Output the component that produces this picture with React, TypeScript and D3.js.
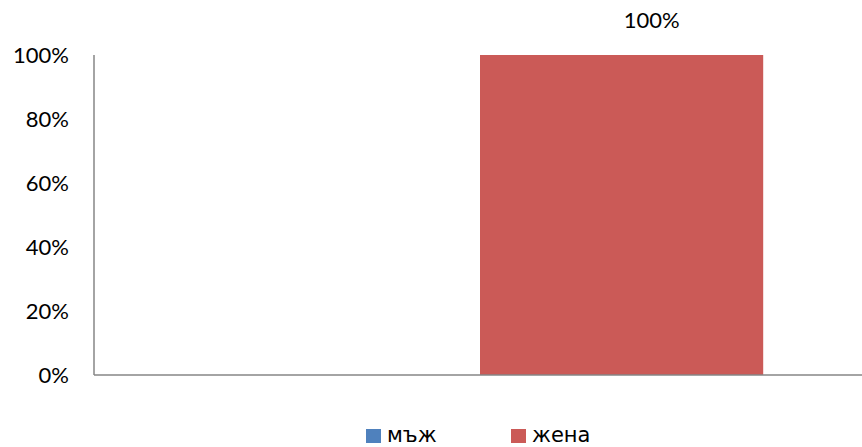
import React, { useEffect, useRef } from 'react';
import * as d3 from 'd3';

// one category, two series (мъж / жена)
const categories = [''];
const seriesNames = ['мъж', 'жена'];
const seriesValues = [0, 1];
const seriesColors = ['#4f81bd', '#cb5a57'];
const yTicks = [0, 0.2, 0.4, 0.6, 0.8, 1];
const barLabels = ['', '100%'];

export default function App() {
  const svgRef = useRef<SVGSVGElement>(null);

  useEffect(() => {
    document.body.style.margin = '0';
    if (!svgRef.current) return;
    const svg = d3.select(svgRef.current);
    svg.selectAll('*').remove();

    const width = 862;
    const height = 447;
    const margin = { top: 55, right: -4, bottom: 72, left: 94 };
    const font = 'Lato, "Open Sans", sans-serif';

    svg.attr('width', width).attr('height', height).style('display', 'block');

    const x0 = d3
      .scaleBand()
      .domain(categories)
      .range([margin.left, width - margin.right])
      .padding(0);

    const x1 = d3
      .scaleBand()
      .domain(seriesNames)
      .range([0, x0.bandwidth()])
      .paddingInner(0)
      .paddingOuter(0.363);

    const y = d3
      .scaleLinear()
      .domain([0, 1])
      .range([height - margin.bottom, margin.top]);

    // bars
    const g = svg.append('g').attr('transform', `translate(${x0(categories[0])},0)`);
    seriesNames.forEach((name, i) => {
      g.append('rect')
        .attr('x', x1(name)!)
        .attr('y', y(seriesValues[i]))
        .attr('width', x1.bandwidth())
        .attr('height', y(0) - y(seriesValues[i]))
        .attr('fill', seriesColors[i]);

      if (barLabels[i]) {
        g.append('text')
          .attr('x', x1(name)! + x1.bandwidth() / 2 + 30)
          .attr('y', y(seriesValues[i]) - 27)
          .attr('text-anchor', 'middle')
          .attr('font-family', font)
          .attr('font-size', 22)
          .attr('fill', '#000')
          .text(barLabels[i]);
      }
    });

    // y axis line
    svg.append('line')
      .attr('x1', margin.left)
      .attr('x2', margin.left)
      .attr('y1', y(1))
      .attr('y2', y(0))
      .attr('stroke', '#868686')
      .attr('stroke-width', 1.5);

    // baseline
    svg.append('line')
      .attr('x1', margin.left)
      .attr('x2', width)
      .attr('y1', y(0))
      .attr('y2', y(0))
      .attr('stroke', '#868686')
      .attr('stroke-width', 1.5);

    // y tick labels
    yTicks.forEach((t) => {
      svg.append('text')
        .attr('x', margin.left - 25)
        .attr('y', y(t) + 8)
        .attr('text-anchor', 'end')
        .attr('font-family', font)
        .attr('font-size', 22)
        .attr('fill', '#000')
        .text(d3.format('.0%')(t));
    });

    // legend
    const legendX = [366, 511];
    seriesNames.forEach((name, i) => {
      const lg = svg.append('g').attr('transform', `translate(${legendX[i]},429)`);
      lg.append('rect').attr('width', 15).attr('height', 14).attr('fill', seriesColors[i]);
      lg.append('text')
        .attr('x', 21)
        .attr('y', 13)
        .attr('font-family', '"DejaVu Sans", sans-serif')
        .attr('font-size', 21)
        .attr('fill', '#000')
        .text(name);
    });
  }, []);

  return <svg ref={svgRef}></svg>;
}
